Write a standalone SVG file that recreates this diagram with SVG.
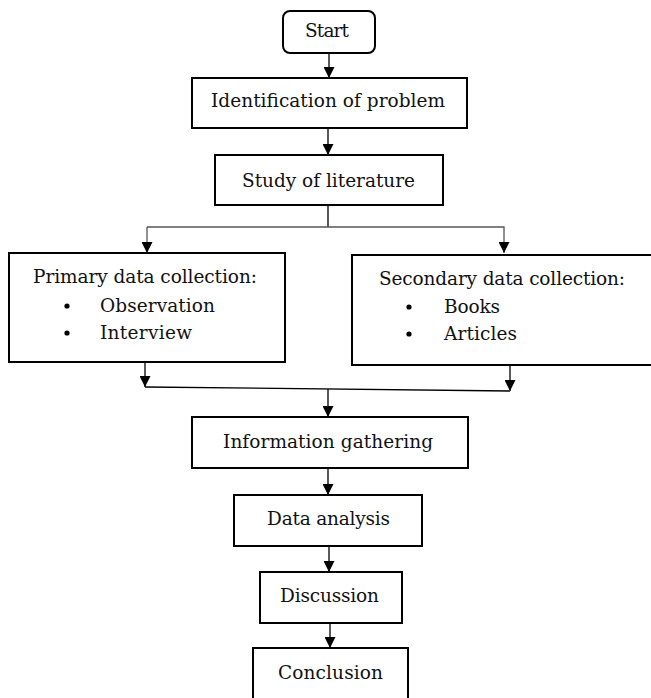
<svg xmlns="http://www.w3.org/2000/svg" width="651" height="698" viewBox="0 0 651 698">
<defs>
<marker id="ah" markerUnits="userSpaceOnUse" markerWidth="11" markerHeight="11" refX="11" refY="5.5" orient="auto">
<path d="M0,0 L11,5.5 L0,11 z" fill="#000"/>
</marker>
<style>
.box{fill:#fff;stroke:#000;stroke-width:2}
.t{font-family:"DejaVu Serif","Liberation Serif",serif;font-size:18.5px;fill:#111}
.ln{fill:none;stroke:#000;stroke-width:1.3}
.g{stroke:#555}
</style>
</defs>
<rect width="651" height="698" fill="#fff"/>
<g id="connectors">
<line class="ln" x1="329" y1="53" x2="329" y2="78" marker-end="url(#ah)"/>
<line class="ln" x1="328" y1="128" x2="328" y2="155" marker-end="url(#ah)"/>
<line class="ln" x1="328" y1="205" x2="328" y2="227"/>
<polyline class="ln g" points="147,227 504,227 504,253" marker-end="url(#ah)"/>
<line class="ln g" x1="147" y1="227" x2="147" y2="253" marker-end="url(#ah)"/>
<line class="ln" x1="145" y1="362" x2="145" y2="387" marker-end="url(#ah)"/>
<line class="ln" x1="510" y1="365" x2="510" y2="391" marker-end="url(#ah)"/>
<line class="ln" x1="145" y1="387" x2="510" y2="391" stroke-width="1.8"/>
<line class="ln" x1="328" y1="389" x2="328" y2="417" marker-end="url(#ah)"/>
<line class="ln" x1="328" y1="468" x2="328" y2="495" marker-end="url(#ah)"/>
<line class="ln" x1="329" y1="546" x2="329" y2="572" marker-end="url(#ah)"/>
<line class="ln" x1="330" y1="623" x2="330" y2="648" marker-end="url(#ah)"/>
</g>
<g id="start">
<rect class="box" x="283" y="11" width="92" height="42" rx="7"/>
<text class="t" x="305" y="37" textLength="44">Start</text>
</g>
<g id="identification">
<rect class="box" x="192" y="78" width="275" height="50"/>
<text class="t" x="211" y="107" textLength="234">Identification of problem</text>
</g>
<g id="study">
<rect class="box" x="215" y="155" width="228" height="50"/>
<text class="t" x="242" y="187" textLength="173">Study of literature</text>
</g>
<g id="primary">
<rect class="box" x="9" y="253" width="276" height="109"/>
<text class="t" x="33" y="283" textLength="224">Primary data collection:</text>
<circle cx="67" cy="306" r="2.6"/>
<text class="t" x="100" y="312" textLength="115">Observation</text>
<circle cx="67" cy="333" r="2.6"/>
<text class="t" x="100" y="339" textLength="92">Interview</text>
</g>
<g id="secondary">
<rect class="box" x="352" y="255" width="305" height="110"/>
<text class="t" x="379" y="285" textLength="246">Secondary data collection:</text>
<circle cx="409" cy="307" r="2.6"/>
<text class="t" x="444" y="313" textLength="56">Books</text>
<circle cx="409" cy="334" r="2.6"/>
<text class="t" x="444" y="340" textLength="73">Articles</text>
</g>
<g id="information">
<rect class="box" x="192" y="417" width="276" height="51"/>
<text class="t" x="223" y="448" textLength="210">Information gathering</text>
</g>
<g id="analysis">
<rect class="box" x="234" y="495" width="188" height="51"/>
<text class="t" x="267" y="525" textLength="123">Data analysis</text>
</g>
<g id="discussion">
<rect class="box" x="260" y="572" width="142" height="51"/>
<text class="t" x="280" y="602" textLength="99">Discussion</text>
</g>
<g id="conclusion">
<rect class="box" x="253" y="648" width="155" height="60"/>
<text class="t" x="278" y="679" textLength="105">Conclusion</text>
</g>
</svg>
